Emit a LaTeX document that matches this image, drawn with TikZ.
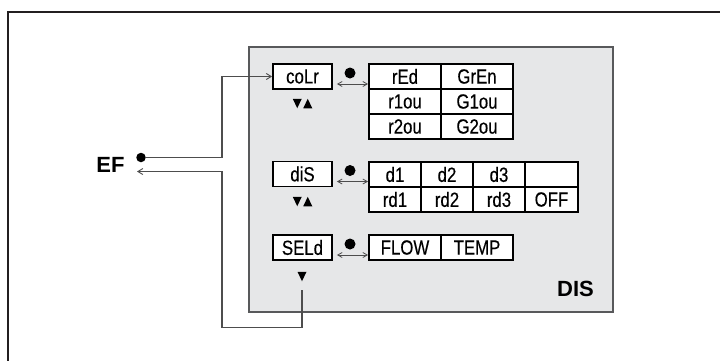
\documentclass[tikz,border=0pt]{standalone}
\usepackage{fontspec}
\setmainfont{Liberation Sans}
\newfontfamily\narrowsf[FakeStretch=0.82,FakeBold=0.3]{Liberation Sans}
\usetikzlibrary{arrows.meta}
\definecolor{panelfill}{HTML}{E6E7E8}
\definecolor{panelline}{HTML}{58595B}
\definecolor{wire}{HTML}{4D4D4D}
\definecolor{frameblack}{HTML}{231F20}
\tikzset{
  cell/.style={draw=black, fill=white, line width=1.8pt, inner sep=0pt,
    minimum height=25pt, font=\narrowsf\fontsize{20.5}{20.5}\selectfont},
  menubox/.style={cell, minimum width=59pt},
  wirestyle/.style={draw=wire, line width=1.3pt},
  barb/.style={-{Straight Barb[length=5pt,width=6pt,line width=0.9pt]}},
  dbarb/.style={{Straight Barb[length=4.5pt,width=5pt,line width=0.8pt]}-{Straight Barb[length=4.5pt,width=5pt,line width=0.8pt]}},
  biglabel/.style={font=\bfseries\fontsize{22}{22}\selectfont, inner sep=0pt},
  dtri/.pic={\fill[black] (-4.5,-4.75) -- (4.5,-4.75) -- (0,4.75) -- cycle;},
  utri/.pic={\fill[black] (-4.5,4.75) -- (4.5,4.75) -- (0,-4.75) -- cycle;},
  bigdot/.style={circle, fill=black, inner sep=0pt, minimum size=11pt}
}
\begin{document}
\begin{tikzpicture}[x=1pt,y=-1pt]
\useasboundingbox (0,0) rectangle (720,360);
% outer frame (cropped)
\draw[frameblack, line width=2pt] (8,361) -- (8,12) -- (721,12);
% panel
\draw[panelline, fill=panelfill, line width=1.1pt] (249,47) rectangle (613,312);
\node[biglabel] (dis) at (575.5,289) {DIS};
% menu items
\node[menubox] (colr) at (302.5,76.5) {coLr};
\node[menubox] (diS) at (302.5,174) {diS};
\node[menubox] (seld) at (302.5,247.5) {SELd};
% coLr table
\node[cell, minimum width=72pt] (red) at (405,76.5) {rEd};
\node[cell, minimum width=72pt] (gren) at (477,76.5) {GrEn};
\node[cell, minimum width=72pt] (r1ou) at (405,101.5) {r1ou};
\node[cell, minimum width=72pt] (g1ou) at (477,101.5) {G1ou};
\node[cell, minimum width=72pt] (r2ou) at (405,126.5) {r2ou};
\node[cell, minimum width=72pt] (g2ou) at (477,126.5) {G2ou};
% diS table
\node[cell, minimum width=52pt] (d1) at (395,174.5) {d1};
\node[cell, minimum width=52pt] (d2) at (447,174.5) {d2};
\node[cell, minimum width=52pt] (d3) at (499,174.5) {d3};
\node[cell, minimum width=53pt] (dx) at (551.5,174.5) {};
\node[cell, minimum width=52pt] (rd1) at (395,199.5) {rd1};
\node[cell, minimum width=52pt] (rd2) at (447,199.5) {rd2};
\node[cell, minimum width=52pt] (rd3) at (499,199.5) {rd3};
\node[cell, minimum width=53pt] (off) at (551.5,199.5) {OFF};
% SELd table
\node[cell, minimum width=72pt] (flow) at (405,247.5) {FLOW};
\node[cell, minimum width=72pt] (temp) at (477,247.5) {TEMP};
% dots and double arrows
\node[bigdot] (dot1) at (350,73) {};
\node[bigdot] (dot2) at (350,170.5) {};
\node[bigdot] (dot3) at (350,244) {};
\draw[wire, line width=0.8pt, dbarb] (colr.east |- 0,84) ++(4,0) coordinate (a1) -- (red.west |- a1);
\draw[wire, line width=0.8pt, dbarb] (diS.east |- 0,181.5) ++(4,0) coordinate (a2) -- (d1.west |- a2);
\draw[wire, line width=0.8pt, dbarb] (seld.east |- 0,255) ++(4,0) coordinate (a3) -- (flow.west |- a3);
% triangles
\pic at (297.25,103.5) {dtri};
\pic at (307.75,103.5) {utri};
\pic at (297.25,201.5) {dtri};
\pic at (307.75,201.5) {utri};
\pic at (302,276.5) {dtri};
% EF
\node[biglabel] (ef) at (110.5,164.5) {EF};
\node[circle, fill=black, inner sep=0pt, minimum size=9.5pt] (efdot) at (141,157.5) {};
\coordinate (jt) at (222,157.5);
\coordinate (ret) at (302,290);
\draw[wirestyle, barb] (efdot.east) -- (jt) |- (colr.west);
\draw[wirestyle, barb] (ret) -- (302,327.5) -| (222,171.5) -- (137,171.5);
\end{tikzpicture}
\end{document}
